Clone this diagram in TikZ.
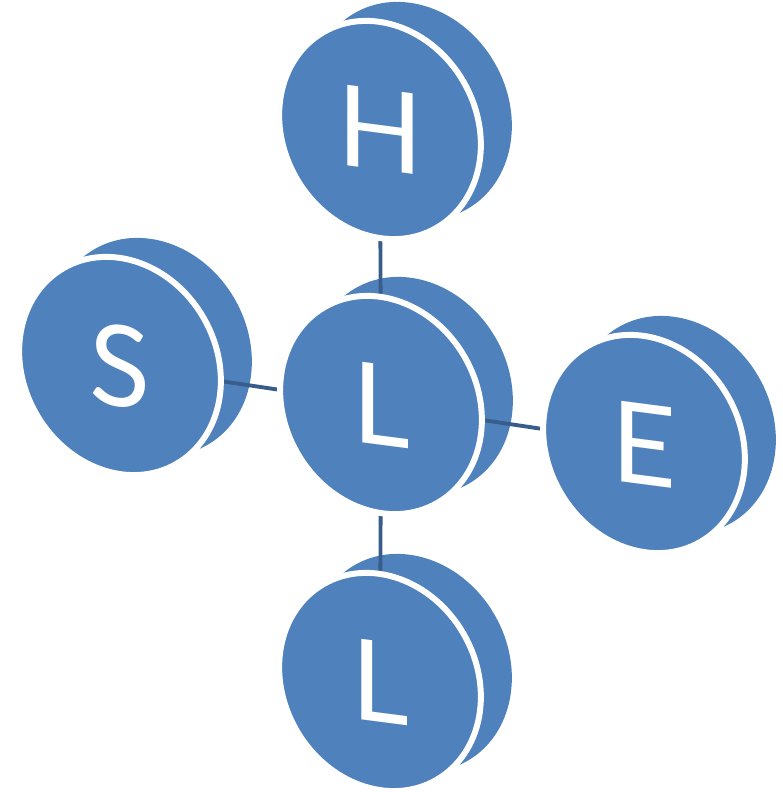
\documentclass[tikz,border=0pt]{standalone}
\usepackage{fontspec}
\setmainfont{Lato}
\usetikzlibrary{shapes.geometric,backgrounds}
\definecolor{coinblue}{RGB}{79,129,189}
\definecolor{linkblue}{RGB}{56,93,138}
\begin{document}
\begin{tikzpicture}[x=0.02cm, y=0.02cm, coin/.style={ellipse, fill=coinblue, draw=white, line width=3.4pt, inner sep=0pt, minimum width=3.86cm, minimum height=4.52cm, rotate=30}, coinback/.style={coin, draw=none}, letter/.style={text=white, inner sep=0pt, font=\fontsize{64}{64}\selectfont, yslant=-0.13}, link/.style={draw=linkblue, line width=2.2pt}]
\useasboundingbox (0,0) rectangle (783,792);
\node[coin] (hcoin) at (380,662) {}; \node[coin] (lcoin) at (381,387) {}; \node[coin] (scoin) at (120,426) {}; \node[coin] (ecoin) at (644,348) {}; \node[coin] (bcoin) at (380,110) {};
\node[letter] (hlet) at (hcoin) {H}; \node[letter] (llet) at (lcoin) {L}; \node[letter] (slet) at (scoin) {S}; \node[letter] (elet) at (ecoin) {E}; \node[letter] (blet) at (bcoin) {L};
\begin{scope}[on background layer]
\foreach \c in {hcoin,lcoin,scoin,ecoin,bcoin} \node[coinback] (\c-back) at ([shift={(31,19)}]\c) {};
\draw[link] (hcoin.center) -- (lcoin.center); \draw[link] (lcoin.center) -- (bcoin.center); \draw[link] (scoin.center) -- (lcoin.center); \draw[link] (lcoin.center) -- (ecoin.center);
\end{scope}
\end{tikzpicture}
\end{document}
